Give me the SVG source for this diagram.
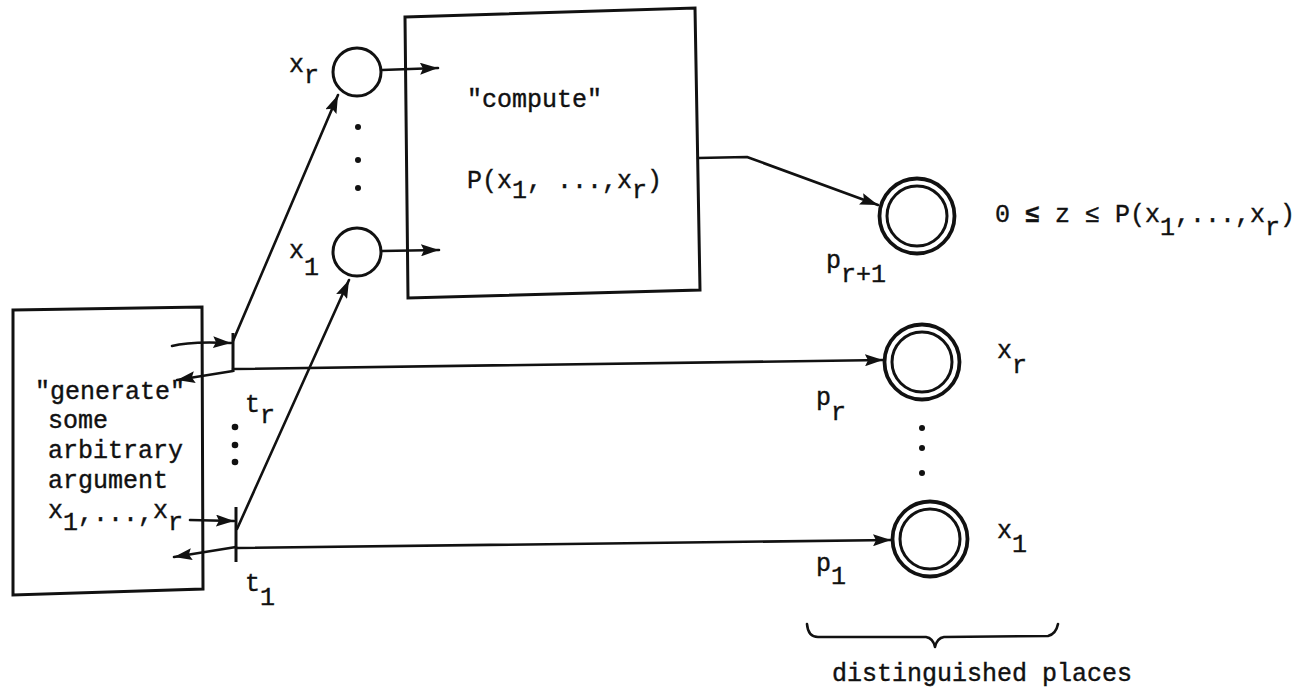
<svg xmlns="http://www.w3.org/2000/svg" width="1304" height="693" viewBox="0 0 1304 693">
<style>
.ln{fill:none;stroke:#111;stroke-width:2.6;stroke-linecap:round;stroke-linejoin:round}
.bx{fill:none;stroke:#111;stroke-width:3}
.pl{fill:none;stroke:#111;stroke-width:3}
.dp{fill:none;stroke:#111;stroke-width:3.8}
.bar{stroke:#111;stroke-width:3}
.dot{fill:#111}
text{font-family:"Liberation Mono","DejaVu Sans Mono",monospace;font-size:25px;fill:#111;stroke:#111;stroke-width:0.4}
</style>
<defs>
<marker id="ah" markerUnits="userSpaceOnUse" markerWidth="19" markerHeight="12" refX="18" refY="6" orient="auto">
<path d="M0,0 L18,6 L0,12 L3,6 Z" fill="#111"/>
</marker>
</defs>
<rect width="1304" height="693" fill="#fff"/>

<g id="connectors">
<path class="ln" marker-end="url(#ah)" d="M172,346 Q190,341 231,343"/>
<path class="ln" marker-end="url(#ah)" d="M233,371 L177,380"/>
<path class="ln" marker-end="url(#ah)" d="M190,520 L234,521"/>
<path class="ln" marker-end="url(#ah)" d="M236,547 L174,557"/>
<path class="ln" marker-end="url(#ah)" d="M233,341 L338,95"/>
<path class="ln" marker-end="url(#ah)" d="M237,529 L349,280"/>
<path class="ln" marker-end="url(#ah)" d="M233,369 L883,360"/>
<path class="ln" marker-end="url(#ah)" d="M236,548 L891,540"/>
<path class="ln" marker-end="url(#ah)" d="M382,70 L438,68"/>
<path class="ln" marker-end="url(#ah)" d="M382,251 L439,250"/>
<path class="ln" marker-end="url(#ah)" d="M698,158 L747,157 L878,205"/>
</g>

<g id="generate">
<polygon class="bx" points="13,310 202,307 203,589 13,595"/>
<text x="35" y="399">"generate"</text>
<text x="48" y="428">some</text>
<text x="48" y="458">arbitrary</text>
<text x="48" y="488">argument</text>
<text x="48" y="518">x<tspan y="530">1</tspan><tspan y="521">,...,</tspan><tspan y="518">x</tspan><tspan y="530">r</tspan></text>
</g>

<g id="t_r">
<line class="bar" x1="233" y1="333" x2="233" y2="372"/>
<text x="245" y="412">t<tspan y="423">r</tspan></text>
</g>
<g id="t_dots">
<circle class="dot" cx="235" cy="427" r="3.3"/>
<circle class="dot" cx="235" cy="445" r="3.3"/>
<circle class="dot" cx="235" cy="462" r="3.3"/>
</g>
<g id="t_1">
<line class="bar" x1="236" y1="507" x2="236" y2="562"/>
<text x="245" y="591">t<tspan y="605">1</tspan></text>
</g>

<g id="x_r">
<circle class="pl" cx="357" cy="72" r="24"/>
<text x="289" y="72">x<tspan y="83">r</tspan></text>
</g>
<g id="x_dots">
<circle class="dot" cx="358" cy="127" r="3"/>
<circle class="dot" cx="358" cy="160" r="3"/>
<circle class="dot" cx="358" cy="188" r="3"/>
</g>
<g id="x_1">
<circle class="pl" cx="357" cy="252" r="24"/>
<text x="289" y="258">x<tspan y="275">1</tspan></text>
</g>

<g id="compute">
<polygon class="bx" points="405,17 695,8 700,290 408,298"/>
<text x="467" y="107">"compute"</text>
<text x="467" y="188">P(x<tspan y="198">1</tspan><tspan y="188">, ...,x</tspan><tspan y="198">r</tspan><tspan y="188">)</tspan></text>
</g>

<g id="p_r1">
<circle class="dp" cx="917" cy="216" r="37.5"/>
<circle class="pl" cx="917" cy="216" r="30"/>
<text x="826" y="268">p<tspan y="282">r+1</tspan></text>
<text x="995" y="222">0 <tspan font-weight="bold">≤</tspan> z ≤ P(x<tspan y="235">1</tspan><tspan y="222">,...,x</tspan><tspan y="235">r</tspan><tspan y="222">)</tspan></text>
</g>

<g id="p_r">
<circle class="dp" cx="922" cy="362" r="37.5"/>
<circle class="pl" cx="922" cy="362" r="30"/>
<text x="816" y="405">p<tspan y="420">r</tspan></text>
<text x="997" y="358">x<tspan y="373">r</tspan></text>
</g>
<g id="p_dots">
<circle class="dot" cx="922" cy="428" r="3"/>
<circle class="dot" cx="922" cy="448" r="3"/>
<circle class="dot" cx="922" cy="473" r="3"/>
</g>
<g id="p_1">
<circle class="dp" cx="930" cy="539" r="37.5"/>
<circle class="pl" cx="930" cy="539" r="30"/>
<text x="816" y="571">p<tspan y="584">1</tspan></text>
<text x="997" y="538">x<tspan y="552">1</tspan></text>
</g>

<g id="brace">
<path class="ln" d="M807,624 Q808,637 818,637 L926,637 Q933,638 935,647 Q937,638 944,637 L1048,636 Q1056,634 1058,624"/>
<text x="832" y="681">distinguished places</text>
</g>
</svg>
